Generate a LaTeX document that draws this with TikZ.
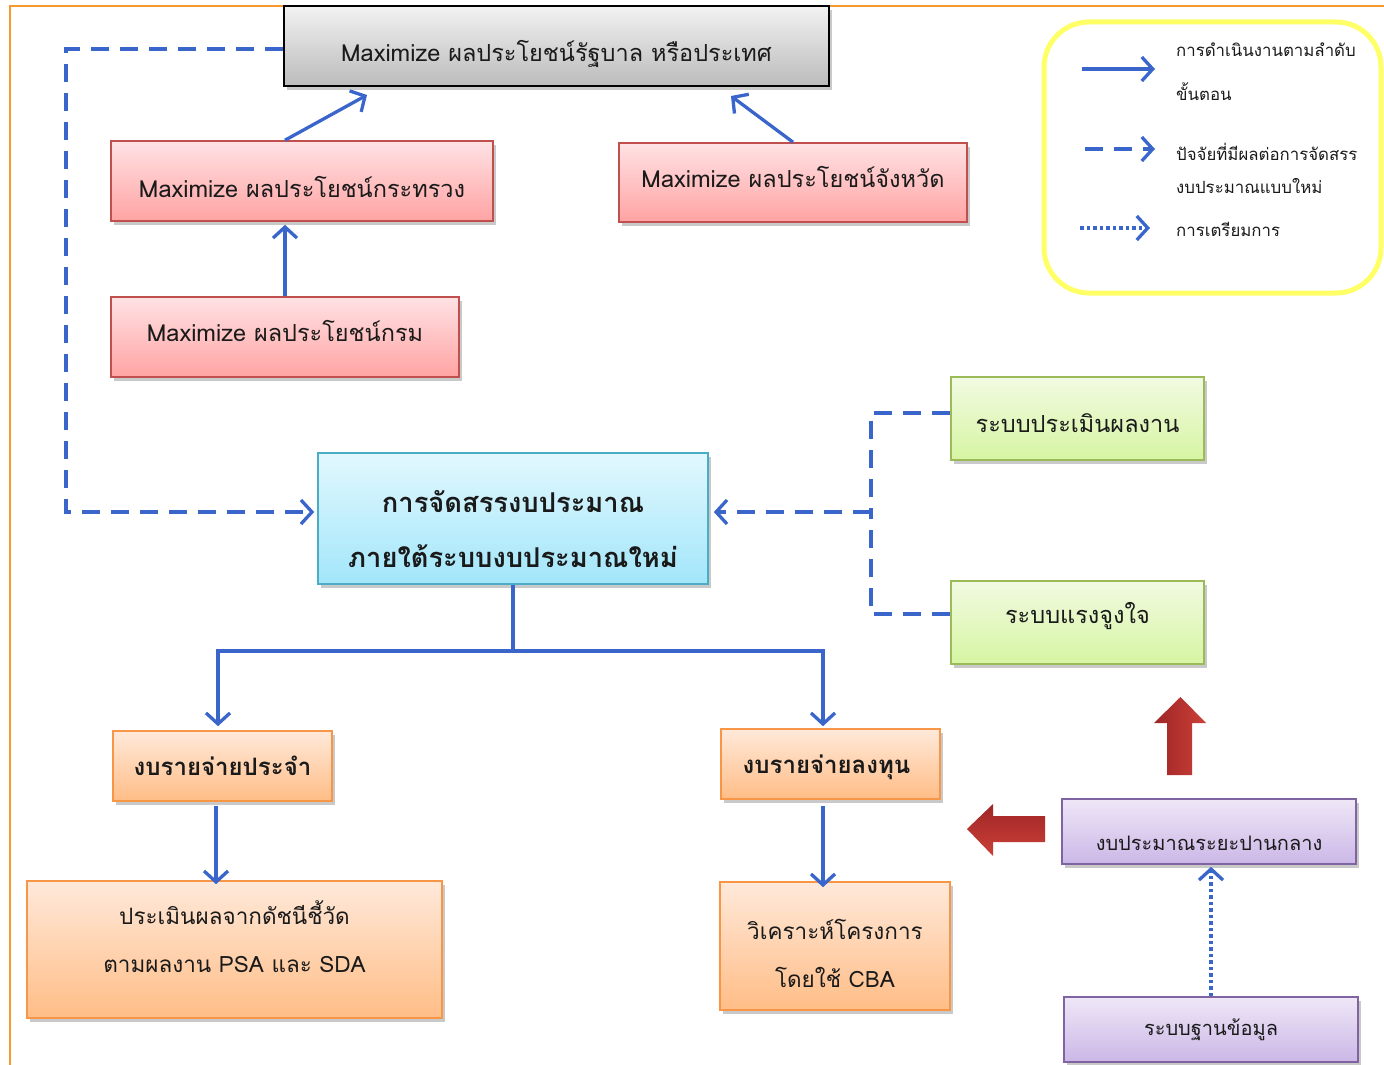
\documentclass[tikz,border=0pt]{standalone}
\usepackage{fontspec}
\setmainfont[Script=Thai]{Loma}
\usetikzlibrary{arrows.meta,shadows,calc}
\definecolor{lineblue}{HTML}{3A66CC}
\definecolor{frameorange}{HTML}{F79A2E}
\definecolor{legyellow}{HTML}{FFFF66}
\definecolor{redline}{HTML}{C0504D}
\definecolor{redtop}{HTML}{FFE2E4}
\definecolor{redbot}{HTML}{FFA3A3}
\definecolor{graytop}{HTML}{F2F2F2}
\definecolor{graybot}{HTML}{BBBBBB}
\definecolor{cyanline}{HTML}{4BACC6}
\definecolor{cyantop}{HTML}{E2F8FE}
\definecolor{cyanbot}{HTML}{A2E6FA}
\definecolor{greenline}{HTML}{9BBB59}
\definecolor{greentop}{HTML}{F2FAE2}
\definecolor{greenbot}{HTML}{D6F5A2}
\definecolor{orline}{HTML}{F79646}
\definecolor{ortop}{HTML}{FFE9DA}
\definecolor{orbot}{HTML}{FFBD86}
\definecolor{puline}{HTML}{8064A2}
\definecolor{putop}{HTML}{EFE7F7}
\definecolor{pubot}{HTML}{CBB7E7}
\definecolor{darkred}{HTML}{9E2626}
\definecolor{lightred}{HTML}{CC4038}
\definecolor{txt}{HTML}{1A1A1A}
\begin{document}
\begin{tikzpicture}[x=1pt,y=-1pt,
  box/.style={line width=1.6pt, inner sep=0pt,
    drop shadow={shadow xshift=3pt, shadow yshift=-4pt, opacity=0.35, fill=black!60}},
  redbox/.style={box, draw=redline, top color=redtop, bottom color=redbot},
  graybox/.style={box, draw=black, line width=2pt, top color=graytop, bottom color=graybot},
  cyanbox/.style={box, draw=cyanline, top color=cyantop, bottom color=cyanbot},
  greenbox/.style={box, draw=greenline, top color=greentop, bottom color=greenbot},
  orbox/.style={box, draw=orline, top color=ortop, bottom color=orbot},
  pubox/.style={box, draw=puline, top color=putop, bottom color=pubot},
  lab/.style={inner sep=0pt, align=center, text=txt},
  maxtext/.style={lab, font=\fontsize{23.5}{28}\selectfont},
  alloctext/.style={lab, font=\bfseries\fontsize{27.3}{55}\selectfont},
  greentext/.style={lab, font=\fontsize{23.5}{28}\selectfont},
  orboldtext/.style={lab, font=\bfseries\fontsize{24}{28}\selectfont},
  ortext/.style={lab, font=\fontsize{22.5}{48}\selectfont},
  putext/.style={lab, font=\fontsize{20}{24}\selectfont},
  tip/.style={-{Straight Barb[length=11pt,width=24pt]}},
  flow/.style={draw=lineblue, line width=3.3pt, tip},
  factor/.style={draw=lineblue, line width=3.3pt, dash pattern=on 18pt off 11pt},
  dotline/.style={draw=lineblue, line width=3.3pt, dash pattern=on 3.5pt off 3pt, tip},
  legtext/.style={anchor=west, align=left, text=txt, font=\fontsize{16.8}{17}\selectfont, inner sep=0pt},
  bigarrowv/.style={left color=darkred, right color=lightred, draw=none},
  bigarrowh/.style={top color=darkred, bottom color=lightred, draw=none}
]
\useasboundingbox (0,0) rectangle (1384,1065);
\fill[white] (0,0) rectangle (1384,1065);

% outer orange frame
\draw[frameorange, line width=2pt] (10,1065) -- (10,6) -- (1384,6);

% legend
\draw[legyellow, line width=5pt, rounded corners=45pt] (1044,22) rectangle (1381,293);
\coordinate (l1a) at (1082,69);  \coordinate (l1b) at (1155,69);
\coordinate (l2a) at (1085,149); \coordinate (l2b) at (1155,149);
\coordinate (l3a) at (1080,228); \coordinate (l3b) at (1150,228);
\draw[flow] (l1a) -- (l1b);
\draw[factor, tip] (l2a) -- (l2b);
\draw[dotline] (l3a) -- (l3b);
\node[legtext] (lt1) at (1176,50) {การดำเนินงานตามลำดับ};
\node[legtext] (lt1b) at (1176,92) {ขั้นตอน};
\node[legtext] (lt2) at (1176,152) {ปัจจัยที่มีผลต่อการจัดสรร};
\node[legtext] (lt2b) at (1176,186) {งบประมาณแบบใหม่};
\node[legtext] (lt3) at (1176,229) {การเตรียมการ};

% boxes
\node[graybox, minimum width=545pt, minimum height=80pt] (gov) at (556.5,46) {};
\node[maxtext] (govT) at ($(gov.center)+(0,8)$) {Maximize ผลประโยชน์รัฐบาล หรือประเทศ};
\node[redbox, minimum width=382pt, minimum height=80pt] (min) at (302,181) {};
\node[maxtext] (minT) at ($(min.center)+(0,6)$) {Maximize ผลประโยชน์กระทรวง};
\node[redbox, minimum width=348pt, minimum height=80pt] (dep) at (285,337) {};
\node[maxtext] (depT) at ($(dep.center)+(0,-6)$) {Maximize ผลประโยชน์กรม};
\node[redbox, minimum width=348pt, minimum height=79pt] (prov) at (793,182.5) {};
\node[maxtext] (provT) at ($(prov.center)+(0,-6)$) {Maximize ผลประโยชน์จังหวัด};

\node[cyanbox, minimum width=390pt, minimum height=131pt] (alloc) at (513,518.5) {};
\node[alloctext] (allocT) at ($(alloc.center)+(0,11)$) {การจัดสรรงบประมาณ\\ภายใต้ระบบงบประมาณใหม่};

\node[greenbox, minimum width=253pt, minimum height=83pt] (eval) at (1077.5,418.5) {};
\node[greentext] (evalT) at ($(eval.center)+(0,5)$) {ระบบประเมินผลงาน};
\node[greenbox, minimum width=253pt, minimum height=83pt] (incent) at (1077.5,622.5) {};
\node[greentext] (incentT) at ($(incent.center)+(0,-6)$) {ระบบแรงจูงใจ};

\node[orbox, minimum width=219pt, minimum height=70pt] (recur) at (222.5,766) {};
\node[orboldtext] (recurT) at (recur.center) {งบรายจ่ายประจำ};
\node[orbox, minimum width=219pt, minimum height=70pt] (invest) at (830.5,764) {};
\node[orboldtext] (investT) at ($(invest.center)+(-4,3)$) {งบรายจ่ายลงทุน};
\node[orbox, minimum width=415pt, minimum height=137pt] (psa) at (234.5,949.5) {};
\node[ortext] (psaT) at ($(psa.center)+(0,-13)$) {ประเมินผลจากดัชนีชี้วัด\\ตามผลงาน PSA และ SDA};
\node[orbox, minimum width=230pt, minimum height=128pt] (cba) at (835,946) {};
\node[ortext] (cbaT) at ($(cba.center)+(0,7)$) {วิเคราะห์โครงการ\\โดยใช้ CBA};

\node[pubox, minimum width=294pt, minimum height=65pt] (mtef) at (1209,831.5) {};
\node[putext] (mtefT) at ($(mtef.center)+(0,12)$) {งบประมาณระยะปานกลาง};
\node[pubox, minimum width=294pt, minimum height=65pt] (db) at (1211,1029.5) {};
\node[putext] (dbT) at (db.center) {ระบบฐานข้อมูล};

% solid flow arrows
\draw[flow] ([xshift=-17pt]min.north) -- ([xshift=-189.5pt,yshift=-8pt]gov.south);
\draw[flow] (dep.north) -- ([yshift=-3pt]dep.north |- min.south);
\draw[flow] (prov.north) -- ([xshift=174.5pt,yshift=-9pt]gov.south);

\coordinate (split) at (513,651);
\draw[flow] (alloc.south) -- (split) -| ([xshift=-4.5pt,yshift=4pt]recur.north);
\draw[flow] (split) -| ([xshift=-7.5pt,yshift=2pt]invest.north);
\draw[flow] ([xshift=-6.5pt,yshift=-4pt]recur.south) -- ([xshift=-6.5pt,yshift=-4pt]recur.south |- psa.north);
\draw[flow] ([xshift=-7.5pt,yshift=-6pt]invest.south) -- ([xshift=-7.5pt,yshift=-6pt]invest.south |- cba.north);

% dashed factor lines
\coordinate (gcorner) at (66,49);
\draw[factor, tip] ([yshift=-3pt]gov.west) -- (gcorner) |- ([xshift=-3pt,yshift=6.5pt]alloc.west);
\coordinate (junc) at (871,512);
\draw[factor] ([yshift=5.5pt]eval.west) -| (junc);
\draw[factor] ([yshift=8.5pt]incent.west) -| (junc);
\draw[factor, tip] (junc) -- ([xshift=5pt,yshift=6.5pt]alloc.east);

% dotted preparation arrow
\draw[dotline] (db.north) -- ([yshift=-2pt]db.north |- mtef.south);

% red block arrows
\shade[bigarrowv] (1167,775) -- (1167,723) -- (1154,723) -- (1180.5,697) -- (1206,723) -- (1192,723) -- (1192,775) -- cycle;
\shade[bigarrowh] (1045,816) -- (993,816) -- (993,804) -- (967,829) -- (993,856) -- (993,842) -- (1045,842) -- cycle;
\end{tikzpicture}
\end{document}
